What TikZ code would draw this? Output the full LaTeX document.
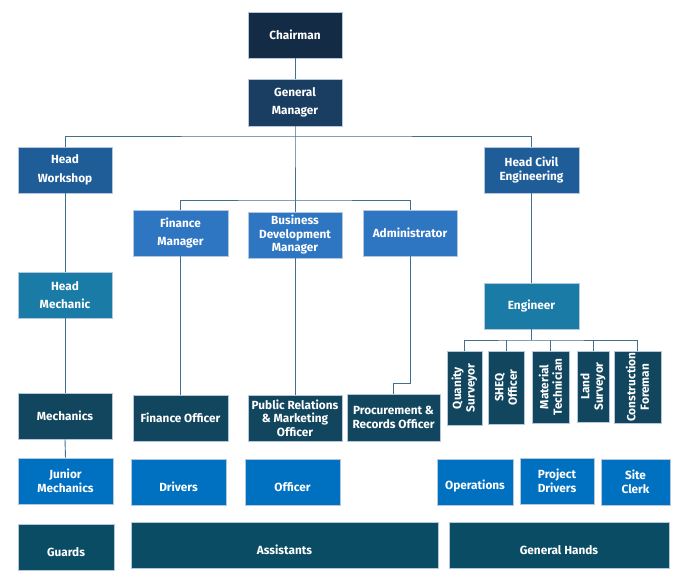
\documentclass[tikz,border=0pt]{standalone}
\usepackage{fontspec}
\setmainfont{Fira Sans}
\definecolor{cChair}{HTML}{132B45}
\definecolor{cGM}{HTML}{1A3D62}
\definecolor{cHead}{HTML}{1F5D99}
\definecolor{cMgr}{HTML}{2E75C2}
\definecolor{cTeal}{HTML}{1B7BA7}
\definecolor{cDark}{HTML}{11465E}
\definecolor{cBlue}{HTML}{0070C0}
\definecolor{cBottom}{HTML}{0A4C63}
\definecolor{cLine}{HTML}{41708E}
\definecolor{cBorder}{HTML}{B4C7DC}
\tikzset{
  box/.style={draw=cBorder, line width=0.6pt, text=white, inner sep=1pt,
    font=\fontsize{11.8}{13.5}\selectfont\bfseries, align=center,
    minimum width=94pt, minimum height=46pt},
  wide/.style={font=\fontsize{11.8}{18.5}\selectfont\bfseries},
  low/.style={text height=18pt, text depth=0pt},
  lowish/.style={text height=14pt, text depth=0pt},
  vbox/.style={box, rotate=90, minimum width=72pt, minimum height=36pt},
  link/.style={draw=cLine, line width=0.9pt}
}
\begin{document}
\begin{tikzpicture}[x=1pt,y=-1pt]
\useasboundingbox (0,0) rectangle (687,576);
% top
\node[box, fill=cChair] (chair) at (295,35) {Chairman};
\node[box, wide, fill=cGM, minimum height=47pt] (gm) at (295,102.5) {General\\Manager};
\node[box, wide, fill=cHead] (hw) at (65,170) {Head\\Workshop};
\node[box, fill=cHead, minimum width=95pt] (hce) at (531.5,170) {Head Civil\\Engineering};
\node[box, wide, fill=cMgr, minimum width=95pt] (fm) at (180.5,233) {Finance\\Manager};
\node[box, fill=cMgr] (bdm) at (295,235) {Business\\Development\\Manager};
\node[box, fill=cMgr] (adm) at (410,233) {Administrator};
\node[box, wide, fill=cTeal] (hm) at (65,295) {Head\\Mechanic};
\node[box, fill=cTeal, minimum width=95pt] (eng) at (531.5,306) {Engineer};
% officers
\node[box, fill=cDark] (mech) at (65,416) {Mechanics};
\node[box, fill=cDark, minimum width=95pt] (fo) at (180.5,418) {Finance Officer};
\node[box, fill=cDark] (pr) at (295,418) {Public Relations\\\& Marketing\\Officer};
\node[box, fill=cDark, minimum width=93pt, minimum height=47pt] (proc) at (393.5,417.5) {Procurement \&\\Records Officer};
% engineer staff
\node[vbox, fill=cDark, minimum width=74pt, minimum height=35pt] (qs) at (464.5,388) {Quanity\\Surveyor};
\node[vbox, fill=cDark, minimum width=73pt, minimum height=36pt] (sheq) at (506,387.5) {SHEQ\\Officer};
\node[vbox, fill=cDark, minimum width=72pt, minimum height=37pt] (mt) at (550.5,387) {Material\\Technician};
\node[vbox, fill=cDark, minimum width=71pt, minimum height=32pt] (ls) at (593,386.5) {Land\\Surveyor};
\node[vbox, fill=cDark, minimum width=72pt, minimum height=47pt] (cf) at (637.5,387) {Construction\\Foreman};
% blue row
\node[box, fill=cBlue, minimum width=95pt] (jm) at (65.5,481) {Junior\\Mechanics};
\node[box, low, fill=cBlue, minimum width=95pt] (drv) at (178.5,482) {Drivers};
\node[box, low, fill=cBlue, minimum width=95pt] (off) at (292.5,482) {Officer};
\node[box, lowish, fill=cBlue, minimum width=76pt] (ops) at (475,482) {Operations};
\node[box, fill=cBlue, minimum width=74pt] (pd) at (557,481) {Project\\Drivers};
\node[box, fill=cBlue, minimum width=69pt] (sc) at (635.5,482) {Site\\Clerk};
% bottom row
\node[box, low, fill=cBottom, minimum width=96pt] (grd) at (66,547) {Guards};
\node[box, low, fill=cBottom, minimum width=307pt] (ast) at (284.5,545) {Assistants};
\node[box, low, fill=cBottom, minimum width=220pt] (gh) at (559,545) {General Hands};
% coordinates
\coordinate (b1) at (295,136);
\coordinate (b2) at (295,200);
\coordinate (a1) at (410,383);
\coordinate (e1) at (531.5,340);
% connectors
\path[link] (chair.south) -- (gm.north);
\path[link] (gm.south) -- (b1) -- (b2);
\path[link] (hw.north) |- (b1) -| (hce.north);
\path[link] (fm.north) |- (b2) -| (adm.north);
\path[link] (b2) -- (bdm.north);
\path[link] (hw.south) -- (hm.north);
\path[link] (hm.south) -- (mech.north);
\path[link] (mech.south) -- (jm.north);
\path[link] (fm.south) -- (fo.north);
\path[link] (bdm.south) -- (pr.north);
\path[link] (adm.south) -- (a1) -| (proc.north);
\path[link] (hce.south) -- (eng.north);
\path[link] (eng.south) -- (e1);
\path[link] (qs.east) |- (e1) -| (cf.east);
\path[link] (sheq.east) -- (sheq.east |- e1);
\path[link] (mt.east) -- (mt.east |- e1);
\path[link] (ls.east) -- (ls.east |- e1);
\end{tikzpicture}
\end{document}
